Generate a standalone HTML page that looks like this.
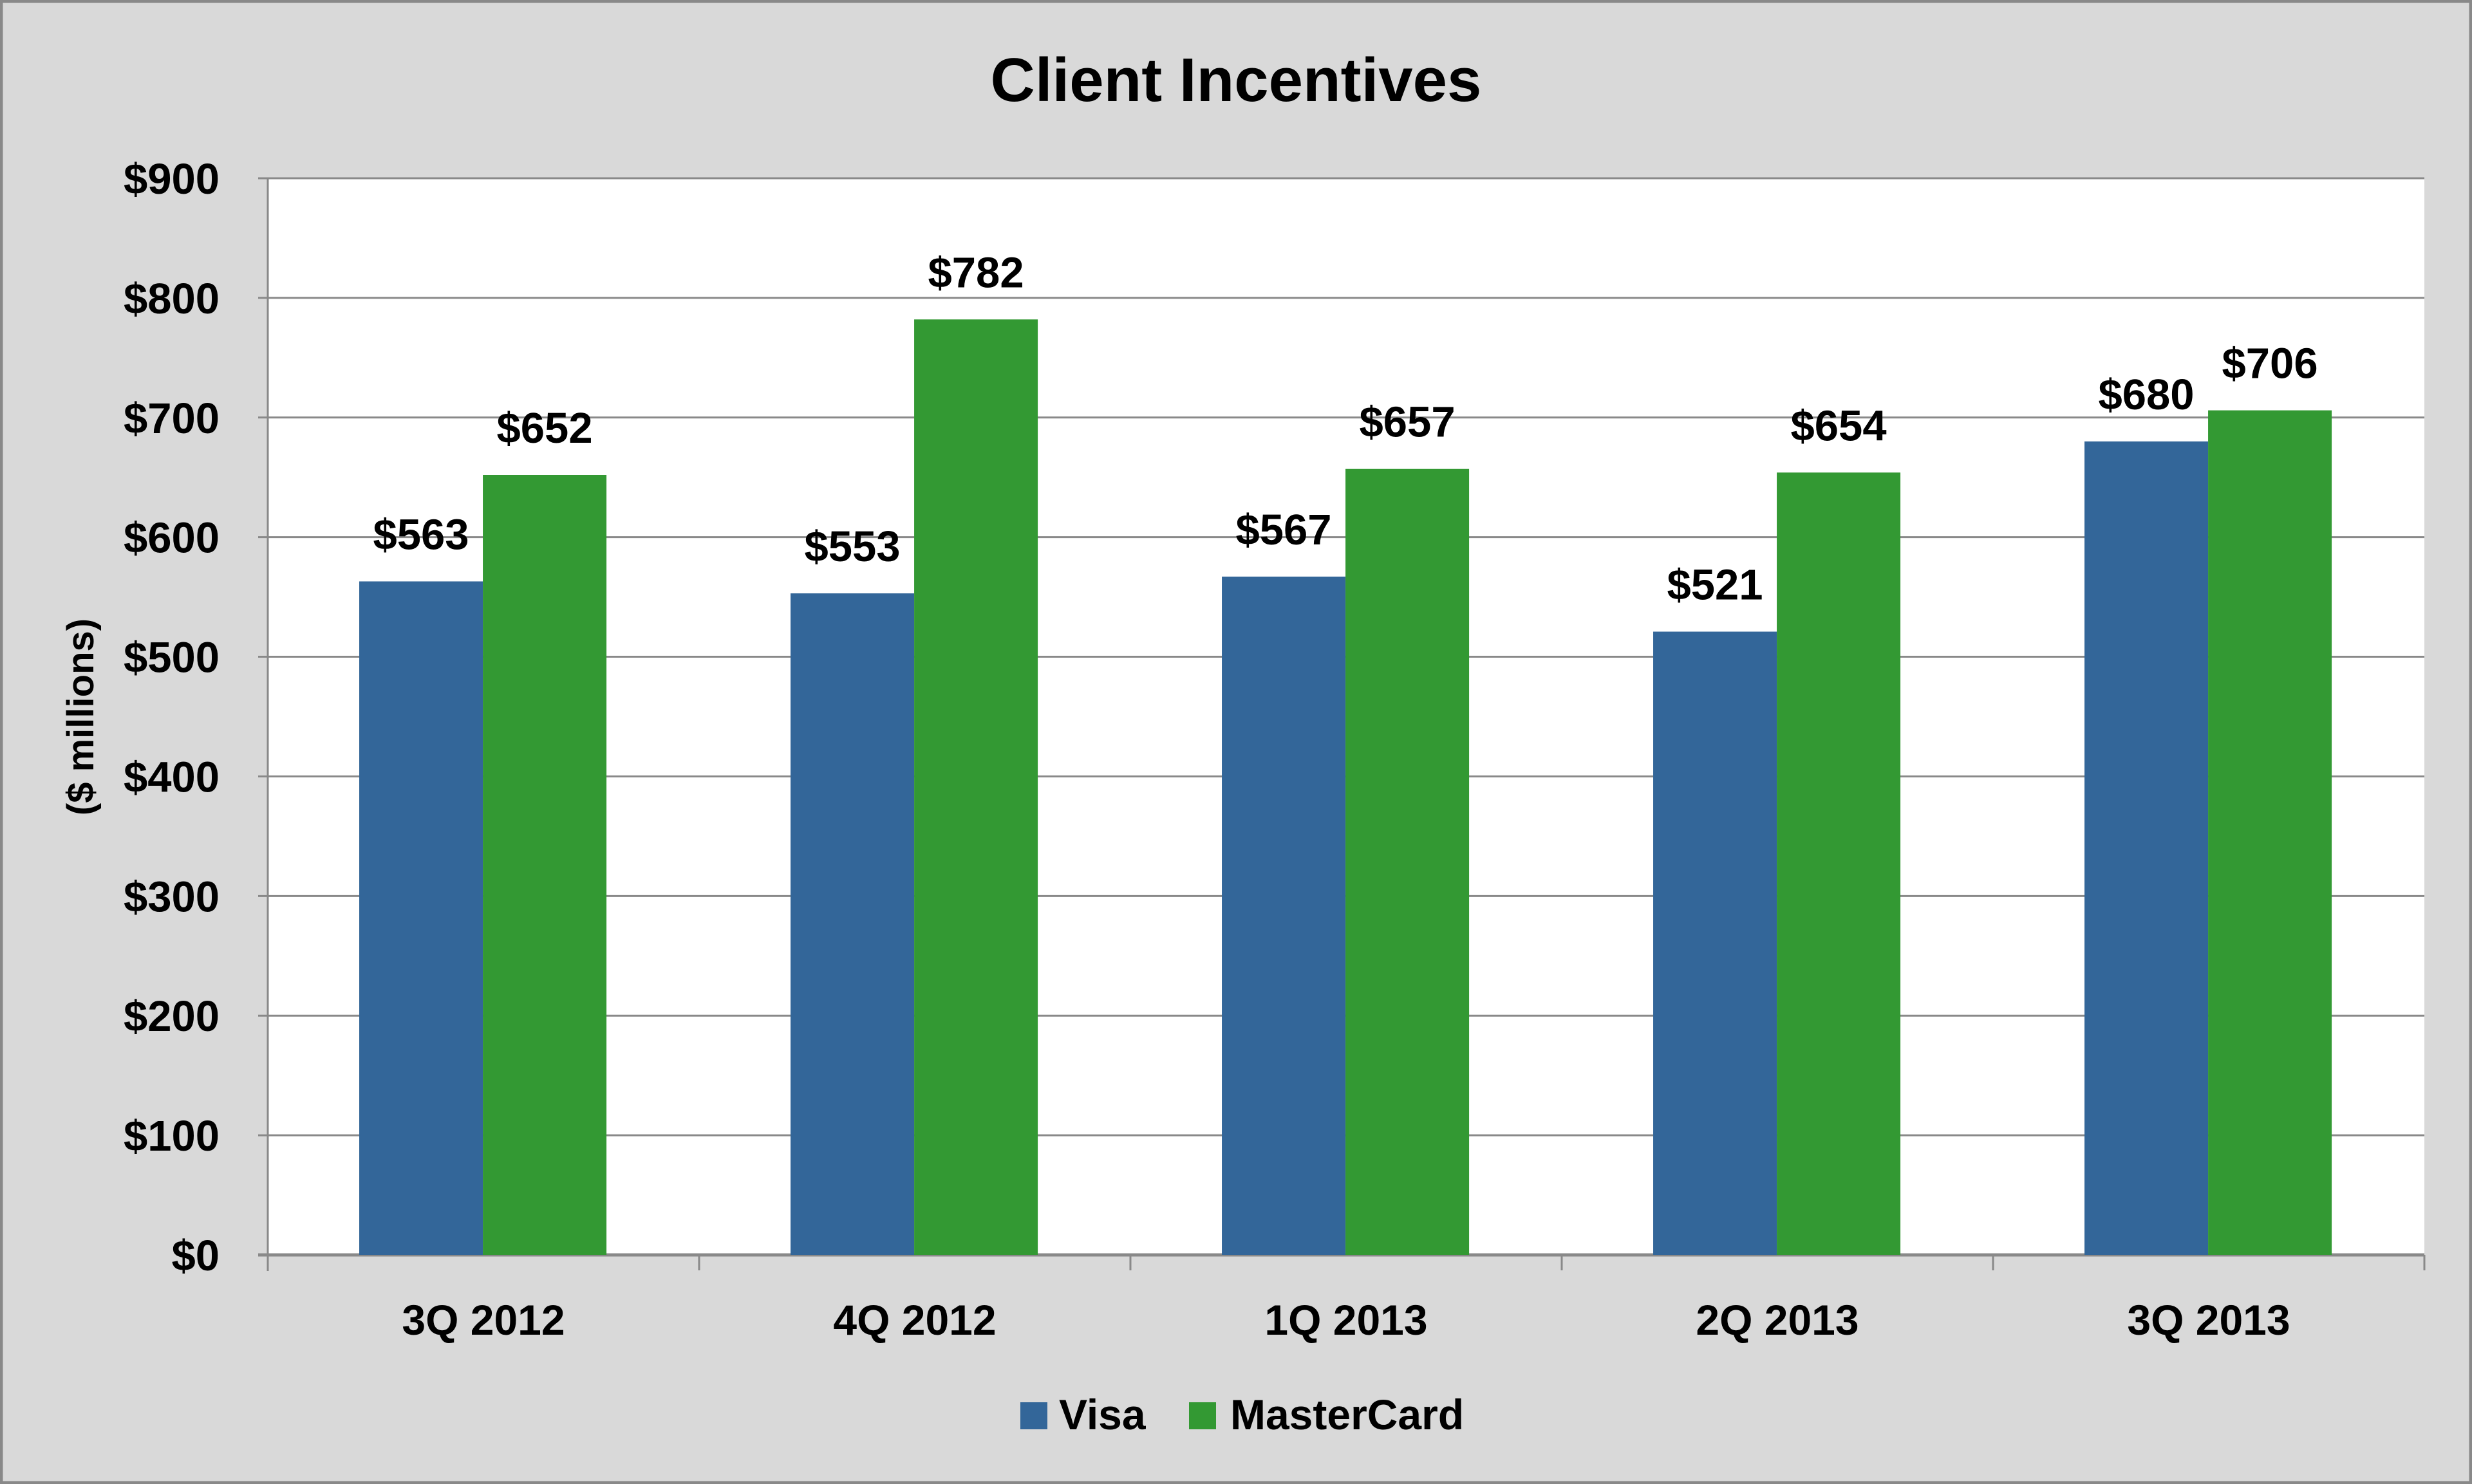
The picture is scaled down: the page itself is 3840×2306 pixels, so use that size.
<!DOCTYPE html>
<html><head><meta charset="utf-8"><style>
html,body{margin:0;padding:0;background:#d9d9d9;}
svg{display:block;font-family:"Liberation Sans",sans-serif;font-weight:bold;}
</style></head><body>
<svg id="chart" width="3840" height="2306" viewBox="0 0 3840 2306" xmlns="http://www.w3.org/2000/svg">
<rect x="2" y="2" width="3836" height="2302" fill="#d9d9d9" stroke="#898989" stroke-width="5"/>
<text x="1920" y="157" text-anchor="middle" font-size="96" fill="#000">Client Incentives</text>
<rect x="416" y="277" width="3350" height="1673" fill="#fff"/>
<g id="grid"></g>
<g id="bars"></g>
<g id="labels"></g>
<text transform="translate(145,1114) rotate(-90)" text-anchor="middle" font-size="58" fill="#000">($ millions)</text>
<g>
<rect x="1585" y="2179" width="42" height="42" fill="#336699"/>
<text x="1645" y="2221" font-size="66" fill="#000">Visa</text>
<rect x="1847" y="2179" width="42" height="42" fill="#339933"/>
<text x="1911" y="2221" font-size="66" fill="#000">MasterCard</text>
</g>
</svg>
<script>
const categories = ["3Q 2012","4Q 2012","1Q 2013","2Q 2013","3Q 2013"];
const visa = [563,553,567,521,680];
const mastercard = [652,782,657,654,706];
const yTicks = [0,100,200,300,400,500,600,700,800,900];

const NS="http://www.w3.org/2000/svg";
const L=416,R=3766,T=277,B=1950,YMAX=900;
const y=v=>B-(v/YMAX)*(B-T);
const band=(R-L)/categories.length;
const xc=i=>L+band*i;
const barW=band*0.2866;
const gap=band*0.212;
function mk(tag,attrs,parent,text){const e=document.createElementNS(NS,tag);for(const k in attrs)e.setAttribute(k,attrs[k]);if(text!==undefined)e.textContent=text;parent.appendChild(e);return e;}
const grid=document.getElementById('grid'),bars=document.getElementById('bars'),labels=document.getElementById('labels');
yTicks.forEach(t=>{
  const g=mk('line',{x1:L-15,x2:R,y1:y(t),y2:y(t),stroke:'#898989','stroke-width':t===0?5:3},grid);
  
  
  const tx=mk('text',{x:341,y:y(t)+24,'text-anchor':'end','font-size':67,fill:'#000'},grid,'$'+t);
  
  
});
const ax=mk('line',{x1:L,x2:L,y1:T,y2:B+25,stroke:'#898989','stroke-width':3},grid);


for(let i=0;i<=categories.length;i++){
  const tk=mk('line',{x1:xc(i),x2:xc(i),y1:B,y2:B+24,stroke:'#898989','stroke-width':3},grid);
  
  
}
categories.forEach((c,i)=>{
  const x0=xc(i)+gap;
  const series=[[visa,'#336699','visa'],[mastercard,'#339933','mastercard']];
  series.forEach((s,j)=>{
    const v=s[0][i];const bx=x0+j*barW;
    const r=mk('rect',{x:bx,y:y(v),width:barW,height:B-y(v),fill:s[1]},bars);
    
    
    const lt=mk('text',{x:bx+barW/2,y:y(v)-50,'text-anchor':'middle','font-size':67,fill:'#000'},labels,'$'+v);
    
    
  });
  const xl=mk('text',{x:xc(i)+band/2,y:2074,'text-anchor':'middle','font-size':66,fill:'#000'},labels,c);
  
  
});
</script>
</body></html>
